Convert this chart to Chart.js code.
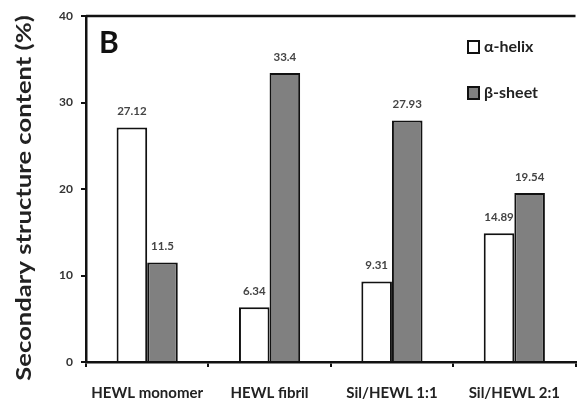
<!DOCTYPE html>
<html>
<head>
<meta charset="utf-8">
<script src="https://cdn.jsdelivr.net/npm/chart.js@4/dist/chart.umd.min.js"></script>
<style>
  html, body { margin: 0; padding: 0; background: #fff; }
  #wrap { width: 577px; height: 403px; }
</style>
</head>
<body>
<div id="wrap"><canvas id="ssChart"></canvas></div>
<script>
// data
const categories = ['HEWL monomer', 'HEWL fibril', 'Sil/HEWL 1:1', 'Sil/HEWL 2:1'];
const seriesNames = ['α-helix', 'β-sheet'];
const alphaHelix = [27.12, 6.34, 9.31, 14.89];
const betaSheet = [11.5, 33.4, 27.93, 19.54];
const yTicks = [0, 10, 20, 30, 40];
const panelLetter = 'B';
const yTitle = 'Secondary structure content (%)';

const FONT = 'Lato, "Open Sans", sans-serif';
const colors = ['#ffffff', '#808080'];

// value labels above bars, top frame line, panel letter, legend, y title
const extras = {
    id: 'extras',
    afterDatasetsDraw(chart) {
        const c = chart.ctx;
        const area = chart.chartArea;
        c.save();

        c.fillStyle = '#444';
        c.font = 'bold 11.5px ' + FONT;
        c.textAlign = 'center';
        c.textBaseline = 'middle';
        chart.data.datasets.forEach((ds, i) => {
            chart.getDatasetMeta(i).data.forEach((bar, j) => {
                c.fillText(String(ds.data[j]), bar.x, bar.y - 16);
            });
        });

        c.strokeStyle = '#111';
        c.lineWidth = 2.5;
        c.beginPath();
        c.moveTo(area.left, area.top);
        c.lineTo(area.right, area.top);
        c.stroke();

        c.fillStyle = '#111';
        c.font = 'bold 30px ' + FONT;
        c.textAlign = 'left';
        c.textBaseline = 'alphabetic';
        c.fillText(panelLetter, area.left + 13, area.top + 37);

        c.font = 'bold 16px ' + FONT;
        c.textBaseline = 'middle';
        seriesNames.forEach((name, i) => {
            const y = area.top + 31 + i * 46;
            c.fillStyle = colors[i];
            c.fillRect(468, y - 6, 11, 12);
            c.strokeStyle = '#111';
            c.lineWidth = 2;
            c.strokeRect(468, y - 6, 11, 12);
            c.fillStyle = '#222';
            c.fillText(name, 484, y);
        });

        // y title, stretched along its length like the original
        c.translate(24, 198);
        c.rotate(-Math.PI / 2);
        c.scale(1.22, 1);
        c.font = 'bold 21px ' + FONT;
        c.fillStyle = '#222';
        c.textAlign = 'center';
        c.textBaseline = 'middle';
        c.fillText(yTitle, 0, 0);
        c.restore();
    }
};

const ctx = document.getElementById('ssChart').getContext('2d');
new Chart(ctx, {
    type: 'bar',
    data: {
        labels: categories,
        datasets: [
            { label: seriesNames[0], data: alphaHelix, backgroundColor: colors[0] },
            { label: seriesNames[1], data: betaSheet, backgroundColor: colors[1] }
        ].map(d => Object.assign(d, {
            borderColor: '#111',
            borderWidth: 2,
            borderSkipped: 'bottom',
            categoryPercentage: 0.5,
            barPercentage: 1.0
        }))
    },
    options: {
        responsive: true,
        maintainAspectRatio: false,
        animation: false,
        layout: { padding: { top: 16, right: 0, left: 0, bottom: 0 } },
        plugins: { legend: { display: false }, tooltip: { enabled: false } },
        scales: {
            x: {
                grid: { drawOnChartArea: false, drawTicks: true, tickLength: 5, color: '#111', lineWidth: 2, offset: true },
                border: { color: '#111', width: 2.5 },
                ticks: { color: '#222', font: { family: FONT, size: 15, weight: 'bold' }, padding: 17 },
                afterFit(s) { s.height = 41; }
            },
            y: {
                min: 0,
                max: 40,
                afterBuildTicks(s) { s.ticks = yTicks.map(v => ({ value: v })); },
                grid: { drawOnChartArea: false, drawTicks: true, tickLength: 5, color: '#111', lineWidth: 2 },
                border: { color: '#111', width: 2.5 },
                ticks: { color: '#333', font: { family: FONT, size: 12, weight: 'bold' }, padding: 8 },
                title: { display: false },
                afterFit(s) { s.width = 86; }
            }
        }
    },
    plugins: [extras]
});
</script>
</body>
</html>
